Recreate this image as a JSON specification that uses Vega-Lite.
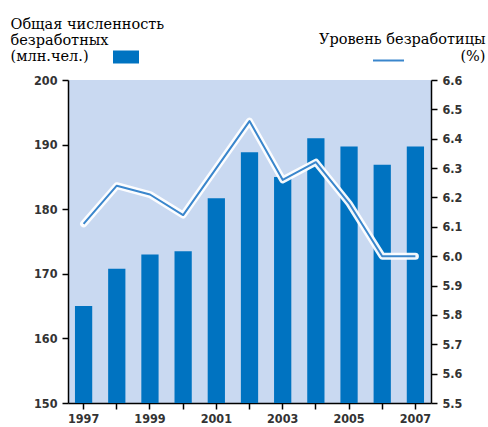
{
  "$schema": "https://vega.github.io/schema/vega-lite/v6.json",
  "autosize": {"type": "none"},
  "padding": {"left": 68, "top": 80, "right": 57, "bottom": 24},
  "width": 363,
  "height": 323,
  "background": "white",
  "config": {
    "view": {"fill": "#c9d9f1", "stroke": null},
    "axis": {
      "labelFont": "DejaVu Sans Condensed",
      "labelFontWeight": "bold",
      "labelFontSize": 12.5,
      "labelColor": "#333333",
      "labelPadding": 5,
      "domainColor": "#000000",
      "domainWidth": 1.5,
      "tickColor": "#000000",
      "tickWidth": 1.5,
      "tickSize": 6,
      "grid": false
    }
  },
  "data": {
    "values": [
      {"year": "1997", "total": 165.0, "rate": 6.11},
      {"year": "1998", "total": 170.8, "rate": 6.24},
      {"year": "1999", "total": 173.0, "rate": 6.21},
      {"year": "2000", "total": 173.5, "rate": 6.14},
      {"year": "2001", "total": 181.7, "rate": 6.30},
      {"year": "2002", "total": 188.8, "rate": 6.46},
      {"year": "2003", "total": 185.0, "rate": 6.26},
      {"year": "2004", "total": 191.0, "rate": 6.32},
      {"year": "2005", "total": 189.7, "rate": 6.18},
      {"year": "2006", "total": 186.9, "rate": 6.0},
      {"year": "2007", "total": 189.7, "rate": 6.0}
    ]
  },
  "encoding": {
    "x": {
      "field": "year",
      "type": "ordinal",
      "scale": {"paddingInner": 0.48, "paddingOuter": 0.21},
      "axis": {
        "title": null,
        "labelAngle": 0,
        "labelPadding": 3,
        "labelExpr": "toNumber(datum.value) % 2 == 1 ? datum.label : ''",
        "domain": true
      }
    }
  },
  "layer": [
    {
      "mark": {"type": "bar", "clip": true},
      "encoding": {
        "y": {
          "field": "total",
          "type": "quantitative",
          "scale": {"domain": [150, 200], "zero": false, "nice": false},
          "axis": {
            "orient": "left",
            "values": [150, 160, 170, 180, 190, 200],
            "title": ["Общая численность", "безработных", "(млн.чел.)"],
            "titleFont": "DejaVu Serif",
            "titleFontWeight": "normal",
            "titleFontSize": 14.5,
            "titleColor": "#000000",
            "titleAngle": 0,
            "titleAlign": "left",
            "titleBaseline": "alphabetic",
            "titleX": -58,
            "titleY": -52,
            "titleLineHeight": 16
          }
        },
        "color": {
          "field": "series_bar",
          "type": "nominal",
          "scale": {"range": ["#0073c1"]},
          "legend": {
            "orient": "none",
            "legendX": 45,
            "legendY": -36,
            "title": null,
            "padding": 0,
            "labelExpr": "''",
            "symbolType": "M-1,-0.5H1V0.5H-1Z",
            "symbolSize": 676,
            "symbolStrokeWidth": 0
          }
        }
      }
    },
    {
      "encoding": {
        "y": {
          "field": "rate",
          "type": "quantitative",
          "scale": {"domain": [5.5, 6.6], "zero": false, "nice": false},
          "axis": {
            "orient": "right",
            "values": [5.5, 5.6, 5.7, 5.8, 5.9, 6.0, 6.1, 6.2, 6.3, 6.4, 6.5, 6.6],
            "format": ".1f",
            "title": ["Уровень безработицы", "(%)"],
            "titleFont": "DejaVu Serif",
            "titleFontWeight": "normal",
            "titleFontSize": 14.5,
            "titleColor": "#000000",
            "titleAngle": 0,
            "titleAlign": "right",
            "titleBaseline": "alphabetic",
            "titleX": 54,
            "titleY": -37,
            "titleLineHeight": 17
          }
        }
      },
      "layer": [
        {
          "mark": {"type": "line", "stroke": "#ffffff", "strokeWidth": 7, "strokeCap": "round", "strokeJoin": "round", "opacity": 0.95}
        },
        {
          "mark": {"type": "line", "strokeWidth": 2, "strokeJoin": "round"},
          "encoding": {
            "stroke": {
              "field": "series_line",
              "type": "nominal",
              "scale": {"range": ["#3a86cc"]},
              "legend": {
                "orient": "none",
                "legendX": 304,
                "legendY": -36,
                "title": null,
                "padding": 0,
                "labelExpr": "''",
                "symbolType": "stroke",
                "symbolSize": 961,
                "symbolStrokeWidth": 2,
                "symbolStrokeColor": "#45a0dc"
              }
            }
          }
        }
      ]
    }
  ],
  "resolve": {"scale": {"y": "independent"}}
}
